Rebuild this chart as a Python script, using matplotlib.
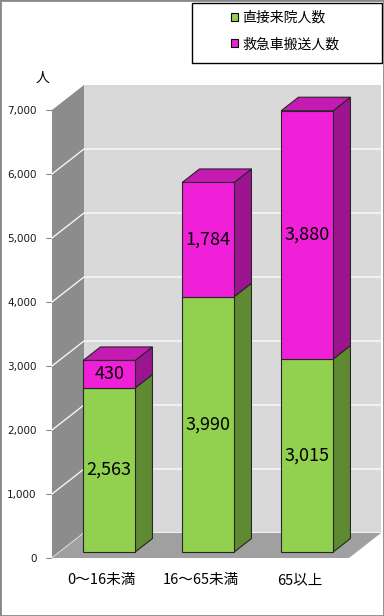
import matplotlib
matplotlib.use("Agg")
import matplotlib.pyplot as plt
from matplotlib.patches import Rectangle, Patch
from matplotlib.ticker import FuncFormatter

# data
categories = ["0～16未満", "16～65未満", "65以上"]
walk_in = [2563, 3990, 3015]
ambulance = [430, 1784, 3880]
series_names = ["直接来院人数", "救急車搬送人数"]
y_ticks = [0, 1000, 2000, 3000, 4000, 5000, 6000, 7000]

# colours: front, side, top
GREEN = ("#92D050", "#5E8A32", "#6FA63A")
MAGENTA = ("#F020D8", "#9C1490", "#C41BB2")
CJK = ["Noto Sans CJK JP", "DejaVu Sans"]

# oblique projection of the depth axis (data units)
DX = 32 / 99.0
DY = 25 / 64.0 * 1000
D0, D1 = 0.24, 0.78
BW = 52 / 99.0
YMAX = 7000


def proj(x, v, d):
    return x + d * DX, v + d * DY


def face(ax, pts, color, z, ec="none", lw=0.0):
    xs, ys = zip(*[proj(*p) for p in pts])
    ax.fill(xs, ys, facecolor=color, edgecolor=ec, linewidth=lw,
            clip_on=False, zorder=z)


def prism(ax, x, bottom, top, colors, z, with_top):
    xl, xr = x - BW / 2, x + BW / 2
    ec, lw = "#262626", 0.8
    face(ax, [(xr, bottom, D0), (xr, bottom, D1), (xr, top, D1), (xr, top, D0)],
         colors[1], z, ec, lw)
    if with_top:
        face(ax, [(xl, top, D0), (xr, top, D0), (xr, top, D1), (xl, top, D1)],
             colors[2], z, ec, lw)
    face(ax, [(xl, bottom, D0), (xr, bottom, D0), (xr, top, D0), (xl, top, D0)],
         colors[0], z + 0.1, ec, lw)


fig = plt.figure(figsize=(3.84, 6.16), dpi=100)
ax = fig.add_axes([52 / 384, 58 / 616, 297 / 384, 448 / 616])
ax.set_xlim(-0.5, len(categories) - 0.5)
ax.set_ylim(0, YMAX)
ax.patch.set_visible(False)
for s in ax.spines.values():
    s.set_visible(False)

x0, x1 = -0.5, len(categories) - 0.5
# walls and floor
face(ax, [(x0, 0, 1), (x1, 0, 1), (x1, YMAX, 1), (x0, YMAX, 1)], "#D9D9D9", 1)
face(ax, [(x0, 0, 0), (x0, 0, 1), (x0, YMAX, 1), (x0, YMAX, 0)], "#8C8C8C", 1)
for v in y_ticks[:-1]:
    xs, ys = zip(proj(x0, v, 0), proj(x0, v, 1), proj(x1, v, 1))
    ax.plot(xs, ys, color="white", lw=0.9, clip_on=False, zorder=2)
face(ax, [(x0, 0, 0), (x1, 0, 0), (x1, 0, 1), (x0, 0, 1)], "#A0A0A0", 3)

# bars
for i, (g, m) in enumerate(zip(walk_in, ambulance)):
    prism(ax, i, 0, g, GREEN, 4, False)
    prism(ax, i, g, g + m, MAGENTA, 5, True)
    for b, val in ((0, g), (g, m)):
        tx, ty = proj(i, b + val / 2, D0)
        ax.text(tx, ty, f"{val:,}", ha="center", va="center", fontsize=13,
                family=CJK, color="black", zorder=10)

ax.set_yticks(y_ticks)
ax.yaxis.set_major_formatter(FuncFormatter(lambda v, p: f"{int(v):,}"))
ax.tick_params(axis="y", length=4, width=0.8, color="#888888", pad=7,
               labelsize=7.5, labelcolor="#1a1a1a")
ax.set_xticks(range(len(categories)))
ax.set_xticklabels(categories, family=CJK, fontsize=10.5)
ax.tick_params(axis="x", length=0, pad=11)

fig.text(43 / 384, 1 - 78 / 616, "人", family=CJK, fontsize=10,
         ha="center", va="center")

# legend
fig.add_artist(Rectangle((192 / 384, 1 - 63 / 616), 190 / 384, 60 / 616,
                         transform=fig.transFigure, fill=False,
                         edgecolor="black", linewidth=1))
handles = [Patch(facecolor=GREEN[0], edgecolor="black", linewidth=0.8),
           Patch(facecolor=MAGENTA[0], edgecolor="black", linewidth=0.8)]
fig.legend(handles, series_names, loc="center",
           bbox_to_anchor=(285 / 384, 1 - 31 / 616), frameon=False,
           prop={"family": CJK, "size": 10}, handlelength=0.5,
           handleheight=0.5, handletextpad=0.3, labelspacing=0.9)

# outer border
fig.add_artist(Rectangle((0, 0), 1, 1, transform=fig.transFigure, fill=False,
                         edgecolor="#888888", linewidth=2))

fig.savefig("out.png", dpi=100)
